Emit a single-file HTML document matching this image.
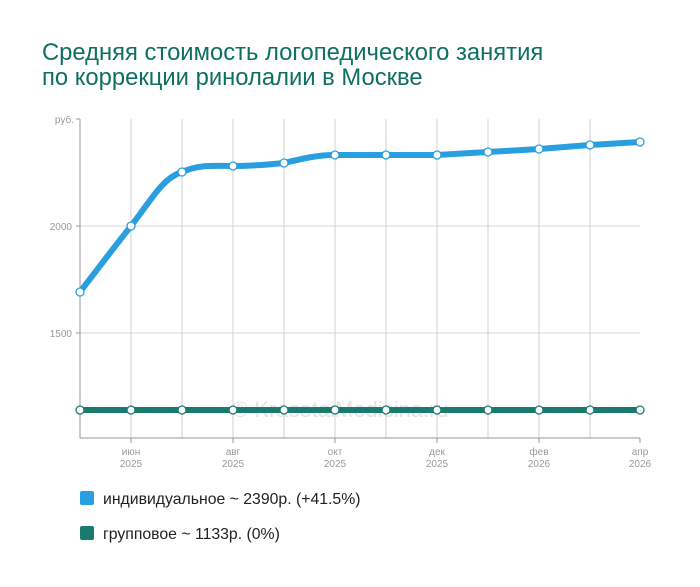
<!DOCTYPE html>
<html><head><meta charset="utf-8"><style>
body{margin:0;background:#fff;width:700px;height:582px;overflow:hidden;font-family:"Liberation Sans",sans-serif}
</style></head><body>
<svg width="700" height="582" xmlns="http://www.w3.org/2000/svg" font-family="Liberation Sans, sans-serif">
<text x="42" y="60" font-size="23.8" fill="#0f6f63">Средняя стоимость логопедического занятия</text>
<text x="42" y="85" font-size="23.8" fill="#0f6f63">по коррекции ринолалии в Москве</text>
<g stroke="#e3e3e3" stroke-width="1.5">
<line x1="80" y1="226" x2="640" y2="226"/><line x1="80" y1="333" x2="640" y2="333"/>
</g>
<g stroke="#d2d2d2" stroke-width="1">
<line x1="131" y1="119" x2="131" y2="438"/><line x1="182" y1="119" x2="182" y2="438"/><line x1="233" y1="119" x2="233" y2="438"/><line x1="284" y1="119" x2="284" y2="438"/><line x1="335" y1="119" x2="335" y2="438"/><line x1="386" y1="119" x2="386" y2="438"/><line x1="437" y1="119" x2="437" y2="438"/><line x1="488" y1="119" x2="488" y2="438"/><line x1="539" y1="119" x2="539" y2="438"/><line x1="590" y1="119" x2="590" y2="438"/>
</g>
<g stroke="#999" stroke-width="1">
<line x1="80" y1="119" x2="80" y2="438"/><line x1="80" y1="438" x2="640" y2="438"/>
<line x1="76" y1="119" x2="80" y2="119"/><line x1="76" y1="226" x2="80" y2="226"/><line x1="76" y1="333" x2="80" y2="333"/>
<line x1="131" y1="438" x2="131" y2="443"/><line x1="233" y1="438" x2="233" y2="443"/><line x1="335" y1="438" x2="335" y2="443"/><line x1="437" y1="438" x2="437" y2="443"/><line x1="539" y1="438" x2="539" y2="443"/><line x1="640" y1="438" x2="640" y2="443"/>
</g>
<g font-size="10" fill="#999" text-anchor="end">
<text x="74" y="123">руб.</text><text x="72" y="230">2000</text><text x="72" y="337">1500</text>
</g>
<g font-size="10" fill="#999" text-anchor="middle">
<text x="131" y="455">июн</text><text x="131" y="467">2025</text>
<text x="233" y="455">авг</text><text x="233" y="467">2025</text>
<text x="335" y="455">окт</text><text x="335" y="467">2025</text>
<text x="437" y="455">дек</text><text x="437" y="467">2025</text>
<text x="539" y="455">фев</text><text x="539" y="467">2026</text>
<text x="640" y="455">апр</text><text x="640" y="467">2026</text>
</g>
<text x="232" y="417" font-size="22" fill="#e2e2e2">© KrasotaiMedicina.ru</text>
<path d="M80,292 C100,266 115,246 131,226 C150,202 162,178 182,172 C200,164 215,166 233,166 C250,166 265,165 284,163 C305,158 318,155 335,155 L437,155 L488,152 L539,149 L590,145 L640,142" fill="none" stroke="#2a9fe0" stroke-width="6"/>
<line x1="80" y1="410" x2="640" y2="410" stroke="#1a7a6e" stroke-width="6"/>
<g fill="#fff" stroke="#2a9fe0" stroke-width="1.3">
<circle cx="80" cy="292" r="4"/><circle cx="131" cy="226" r="4"/><circle cx="182" cy="172" r="4"/><circle cx="233" cy="166" r="4"/><circle cx="284" cy="163" r="4"/><circle cx="335" cy="155" r="4"/><circle cx="386" cy="155" r="4"/><circle cx="437" cy="155" r="4"/><circle cx="488" cy="152" r="4"/><circle cx="539" cy="149" r="4"/><circle cx="590" cy="145" r="4"/><circle cx="640" cy="142" r="4"/>
</g>
<g fill="#fff" stroke="#1a7a6e" stroke-width="1.3">
<circle cx="80" cy="410" r="4"/><circle cx="131" cy="410" r="4"/><circle cx="182" cy="410" r="4"/><circle cx="233" cy="410" r="4"/><circle cx="284" cy="410" r="4"/><circle cx="335" cy="410" r="4"/><circle cx="386" cy="410" r="4"/><circle cx="437" cy="410" r="4"/><circle cx="488" cy="410" r="4"/><circle cx="539" cy="410" r="4"/><circle cx="590" cy="410" r="4"/><circle cx="640" cy="410" r="4"/>
</g>
<rect x="80" y="491" width="14" height="14" rx="2" fill="#2a9fe0"/>
<text x="103" y="504" font-size="15.8" fill="#222">индивидуальное ~ 2390р. (+41.5%)</text>
<rect x="80" y="526" width="14" height="14" rx="2" fill="#1a7a6e"/>
<text x="103" y="539" font-size="15.8" fill="#222">групповое ~ 1133р. (0%)</text>
</svg>
</body></html>
